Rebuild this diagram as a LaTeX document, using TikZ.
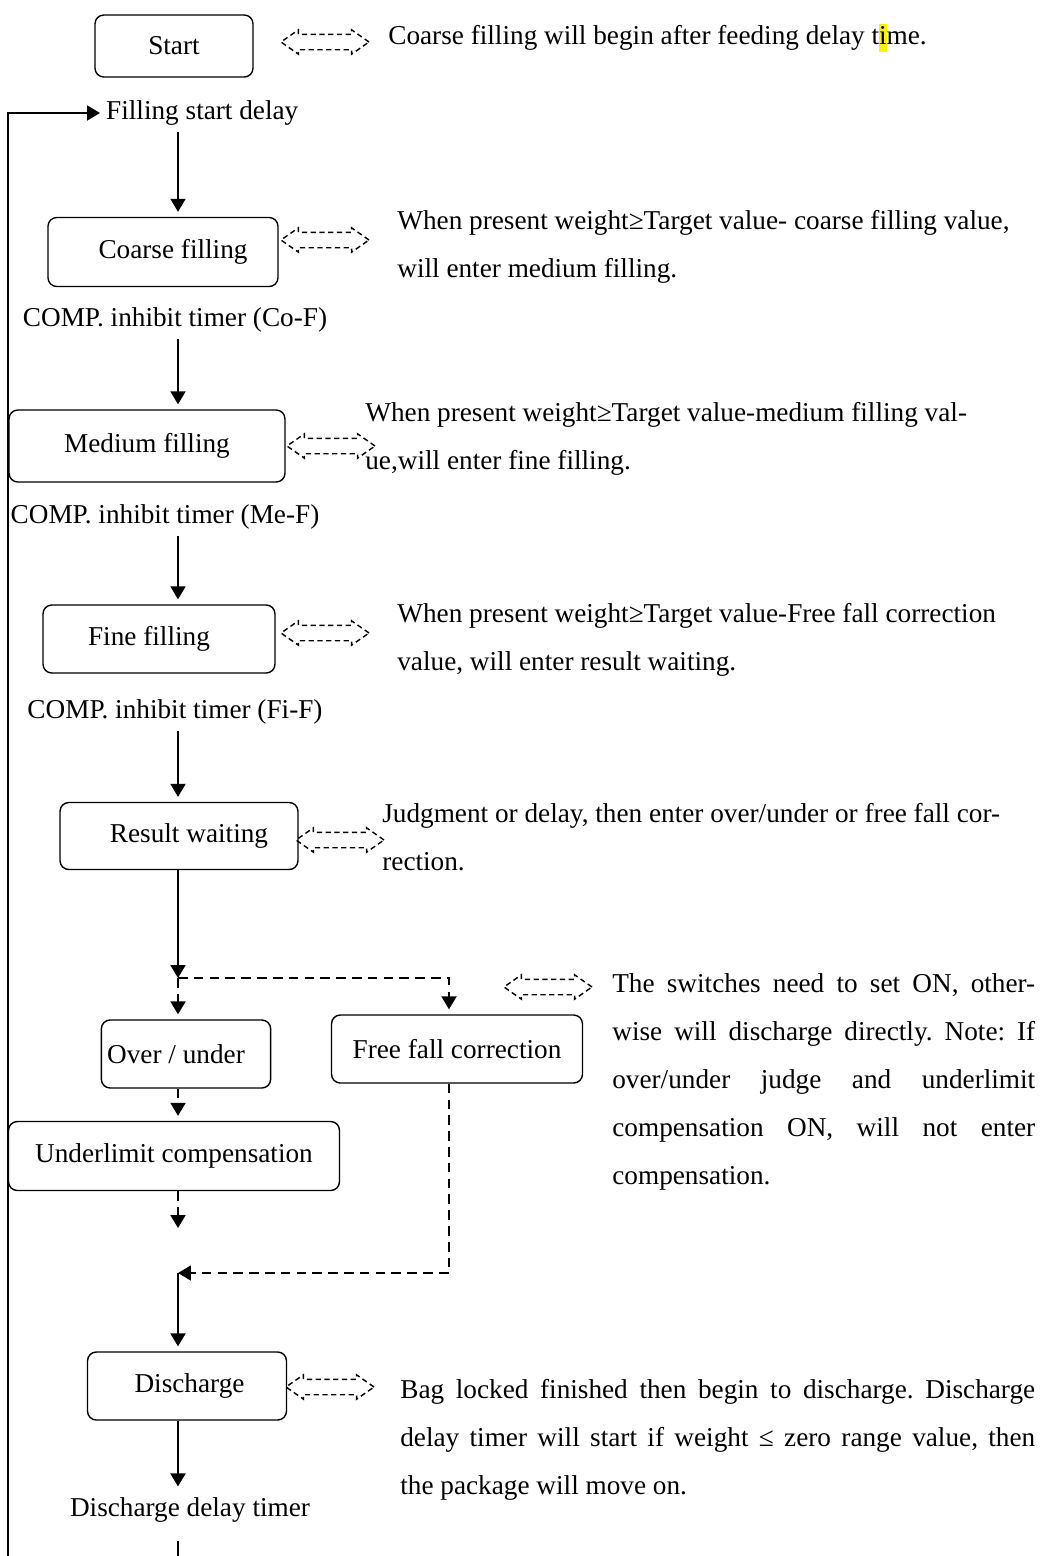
\documentclass[tikz,border=0pt]{standalone}
\usepackage{fontspec}
\setmainfont{Liberation Serif}
\usepackage{xcolor}
\usetikzlibrary{shapes.arrows, arrows.meta, positioning, calc}
\tikzstyle{stepbox} = [rectangle, rounded corners=5pt, draw=black, line width=0.8pt, align=center]
\tikzstyle{flow} = [line width=1.1pt, -{Triangle[width=0.3cm,length=0.26cm]}, shorten >=0.1cm]
\tikzstyle{dflow} = [flow, dash pattern=on 5.5pt off 3.5pt]
\tikzstyle{hint} = [double arrow, draw=black, dash pattern=on 3pt off 2pt, line width=0.8pt, minimum height=1.76cm, minimum width=0.46cm, inner xsep=0pt, inner ysep=0.14cm, double arrow head extend=0.09cm, double arrow tip angle=70]
\tikzstyle{note} = [align=left, anchor=north west, inner sep=0pt]

\begin{document}
\frenchspacing
\begin{tikzpicture}[x=0.02cm, y=-0.02cm, font=\fontsize{15.5}{27.3}\selectfont]
      \useasboundingbox (0,0) rectangle (1055,1556);
      \coordinate (spine) at (178,0);
      \coordinate (ffx) at (449,0);

      % Boxes
      \node[stepbox, minimum width=3.16cm, minimum height=1.24cm] (start) at (174,46) {Start};
      \node[stepbox, minimum width=4.6cm, minimum height=1.38cm] (coarse) at (163,252) {\hspace*{0.4cm}Coarse filling};
      \node[stepbox, minimum width=5.52cm, minimum height=1.44cm] (medium) at (147,446) {Medium filling};
      \node[stepbox, minimum width=4.64cm, minimum height=1.36cm] (fine) at (159,639) {Fine filling\hspace*{0.4cm}};
      \node[stepbox, minimum width=4.76cm, minimum height=1.34cm] (result) at (179,836) {\hspace*{0.4cm}Result waiting};
      \node[stepbox, minimum width=3.34cm, minimum height=1.36cm] (over) at (186,1054) {Over / under\hspace*{0.4cm}};
      \node[stepbox, minimum width=5.02cm, minimum height=1.36cm] (free) at (457,1049) {Free fall correction};
      \node[stepbox, minimum width=6.62cm, minimum height=1.38cm] (under) at (174,1156) {Underlimit compensation};
      \node[stepbox, minimum width=3.98cm, minimum height=1.36cm] (discharge) at (187,1386) {\hspace*{0.1cm}Discharge};

      % Timer labels
      \node (fsd) [anchor=west] at (100,113) {Filling start delay};
      \node (comp1) at (175,320) {COMP. inhibit timer (Co-F)};
      \node (comp2) at (165,517) {COMP. inhibit timer (Me-F)};
      \node (comp3) at (175,712) {COMP. inhibit timer (Fi-F)};
      \node (ddt) at (190,1510) {Discharge delay timer};

      % Hints
      \node[hint] (h0) at (325,42) {};
      \node[hint] (h1) at (325,240) {};
      \node[hint] (h2) at (331,446) {};
      \node[hint] (h3) at (325,633) {};
      \node[hint] (h4) at (340,840) {};
      \node[hint] (h5) at (548,987) {};
      \node[hint] (h6) at (330,1387) {};

      \node[note, anchor=west] (t0) at (388,38) {Coarse filling will begin after feeding delay t{\setlength{\fboxsep}{0pt}\colorbox{yellow}{\rule[-0.3em]{0pt}{1.05em}i}}me.};
      \node[note] (t1) at (397,210) {When present weight≥Target value- coarse filling value,\\will enter medium filling.};
      \node[note] (t2) at (365,402) {When present weight≥Target value-medium filling val-\\ue,will enter fine filling.};
      \node[note] (t3) at (397,603) {When present weight≥Target value-Free fall correction\\value, will enter result waiting.};
      \node[note] (t4) at (382,803) {Judgment or delay, then enter over/under or free fall cor-\\rection.};
      \node[note] (t5) at (612,973) {\makebox[8.46cm][s]{The switches need to set ON, other-}\\
        \makebox[8.46cm][s]{wise will discharge directly. Note: If}\\
        \makebox[8.46cm][s]{over/under judge and underlimit}\\
        \makebox[8.46cm][s]{compensation ON, will not enter}\\
        compensation.};
      \node[note] (t6) at (400,1379) {\makebox[12.7cm][s]{Bag locked finished then begin to discharge. Discharge}\\
        \makebox[12.7cm][s]{delay timer will start if weight ≤ zero range value, then}\\
        the package will move on.};

      % Connectors
      \coordinate (loopbot) at (8,1556);
      \coordinate (split) at (178,978);
      \coordinate (join) at (178,1273);
      \coordinate (ddgap) at (178,1541);
      \draw[flow, shorten >=0pt] (loopbot) |- (fsd.west);
      \draw[flow] (fsd.south -| spine) -- (coarse.north -| spine);
      \draw[flow] (comp1.south -| spine) -- (medium.north -| spine);
      \draw[flow] (comp2.south -| spine) -- (fine.north -| spine);
      \draw[flow] (comp3.south -| spine) -- (result.north -| spine);
      \draw[flow, shorten >=0pt] (result.south -| spine) -- (split);
      \draw[dflow] (split) -- (over.north -| spine);
      \draw[dflow] (split) -| (free.north -| ffx);
      \draw[dflow] (over.south -| spine) -- (under.north -| spine);
      \draw[dflow, shorten >=0.9cm] (under.south -| spine) -- (join);
      \draw[dflow, shorten >=0pt] (free.south -| ffx) |- (join);
      \draw[flow] (join) -- (discharge.north -| spine);
      \draw[flow] (discharge.south -| spine) -- (ddt.north -| spine);
      \draw[line width=1.1pt] (ddgap) -- (ddgap |- loopbot);
\end{tikzpicture}
\end{document}
